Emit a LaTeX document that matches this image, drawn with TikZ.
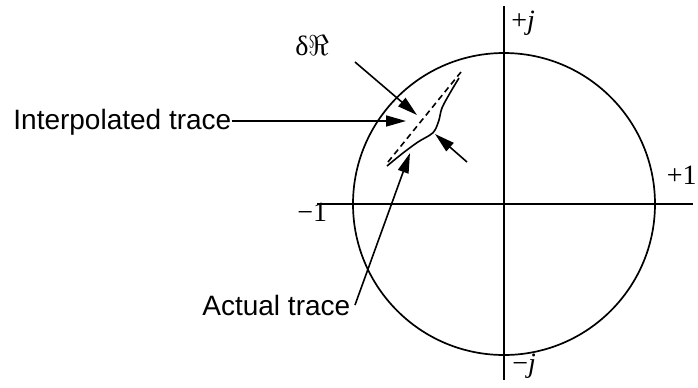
\documentclass[tikz,border=0pt]{standalone}
\usepackage{fontspec}
\setmainfont{Liberation Serif}
\setsansfont{Liberation Sans}
\usetikzlibrary{arrows.meta}

\begin{document}
\begin{tikzpicture}[x=0.5pt,y=-0.5pt,
    every node/.style={font=\fontsize{14}{16}\selectfont, inner sep=0pt},
    lbl/.style={font=\sffamily\fontsize{14}{16}\selectfont},
    pointer/.style={line width=0.8pt, -{Triangle[length=10pt,width=5.5pt]}}]
  \useasboundingbox (0,0) rectangle (698,387);

  % Axes and unit circle
  \coordinate (O) at (504,204);
  \draw[line width=0.9pt] (317,204) -- (693,204); % Real axis
  \draw[line width=0.9pt] (504,6) -- (504,380);   % Imaginary axis
  \draw[line width=0.85pt] (O) circle [radius=75.5pt];

  % Axis labels
  \node[anchor=base west] (plusj)    at (511,29)  {+\textit{j}};
  \node[anchor=base west] (minusj)   at (512,372) {−\textit{j}};
  \node[anchor=base west] (minusone) at (297,221) {−1};
  \node[anchor=base east] (plusone)  at (697,184) {+1};

  % Interpolated (dashed) and actual (solid) traces
  \draw[line width=0.8pt, dash pattern=on 3pt off 2pt] (388,162) -- (461,72);
  \draw[line width=0.8pt] plot[smooth, tension=0.6] coordinates
    {(387,166) (403,153) (418,142) (430,135) (435,130) (439,120) (442,108) (450,93) (459,78)};

  % Labels and pointers
  \node[anchor=base west] (dre) at (295,55) {δ$\Re$};
  \node[lbl, anchor=base west] (interp) at (13,129) {Interpolated trace};
  \node[lbl, anchor=base west] (actual) at (202,315) {Actual trace};

  \coordinate (dreStart) at (355,62);
  \coordinate (dreTip)   at (417,115);
  \coordinate (rgtStart) at (467,162);
  \coordinate (rgtTip)   at (435,134);
  \coordinate (intTip)   at (406,121);
  \coordinate (actStart) at (355,305);
  \coordinate (actTip)   at (410,153);

  \draw[pointer] (dreStart) -- (dreTip);
  \draw[pointer] (rgtStart) -- (rgtTip);
  \draw[pointer] (interp.east |- intTip) -- (intTip);
  \draw[pointer] (actStart) -- (actTip);
\end{tikzpicture}
\end{document}
